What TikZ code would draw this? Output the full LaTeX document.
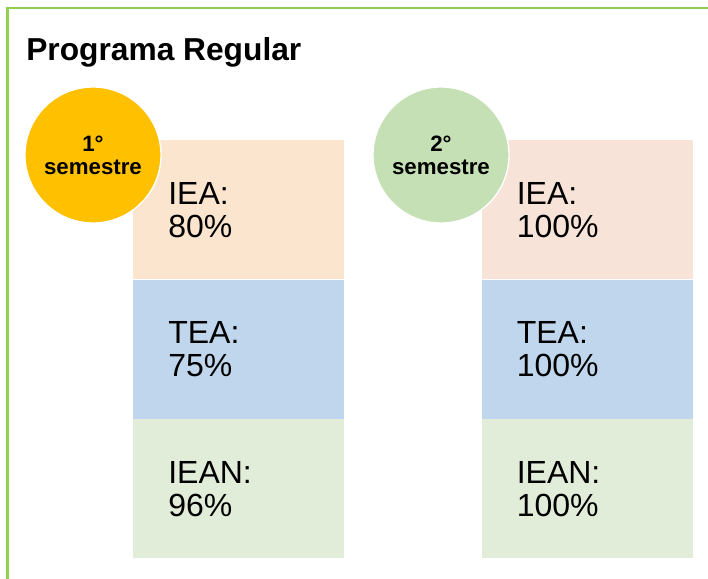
\documentclass[tikz,border=0pt]{standalone}
\usepackage{fontspec}
\setmainfont{Liberation Sans}
\usepackage{tikz}
\usetikzlibrary{positioning}

\definecolor{framegreen}{HTML}{92D050}
\definecolor{amber}{HTML}{FFC000}
\definecolor{sage}{HTML}{C5E0B4}
\definecolor{peach}{HTML}{FBE5CF}
\definecolor{blush}{HTML}{F8E3D8}
\definecolor{skyblue}{HTML}{BFD6EC}
\definecolor{mint}{HTML}{E2EDD9}

\begin{document}
\begin{tikzpicture}
          [x=0.75pt, y=-0.75pt,
           cell/.style={rectangle, minimum width=158.25pt, minimum height=104.25pt,
                        inner xsep=26.25pt, inner ysep=0pt, text width=105.75pt, align=left,
                        font=\fontsize{24}{24.75}\selectfont},
           badge/.style={circle, draw=white, line width=1pt, minimum size=102pt, inner sep=0pt,
                         align=center, font=\bfseries\fontsize{16.7}{17.25}\selectfont}]
          \useasboundingbox (0,0) rectangle (708,579);
          \draw[framegreen, line width=2pt] (7.5,579) -- (7.5,8) -- (708,8);

          \node (title) [anchor=base west, inner sep=0pt, font=\bfseries\fontsize{23.8}{26}\selectfont]
                at (26,60) {Programa Regular};

          \node (iea1) [cell, fill=peach, anchor=north west] at (133,140) {IEA:\\80\%};
          \node (tea1) [cell, fill=skyblue, below=0pt of iea1] {TEA:\\75\%};
          \node (iean1) [cell, fill=mint, below=0pt of tea1] {IEAN:\\96\%};

          \node (iea2) [cell, fill=blush, right=102.75pt of iea1] {IEA:\\100\%};
          \node (tea2) [cell, fill=skyblue, below=0pt of iea2] {TEA:\\100\%};
          \node (iean2) [cell, fill=mint, below=0pt of tea2] {IEAN:\\100\%};

          \node (sem1) [badge, fill=amber] at (93,155) {1°\\semestre};
          \node (sem2) [badge, fill=sage] at (441,155) {2°\\semestre};
        \end{tikzpicture}
\end{document}
